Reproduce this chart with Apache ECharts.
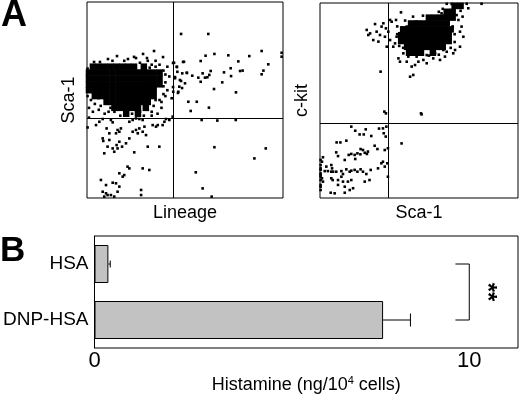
<!DOCTYPE html>
<html>
<head>
<meta charset="utf-8">
<script src="https://cdn.jsdelivr.net/npm/echarts@6/dist/echarts.min.js"></script>
<style>
  html, body { margin: 0; padding: 0; background: #fff; }
  #chart { width: 520px; height: 395px; }
</style>
</head>
<body>
<div id="chart"></div>
<script>
// --- panel A, left: Lineage vs Sca-1 (arbitrary channel units 0-100) ---
const leftGate = [43.9, 40.8] // quadrant lines (x, y)
const leftCore = [
  [3,67],[6,67],[9,67],[12,67],[15,67],[18,67],[21,67],[24,67],[29,67],
  [1,64],[4,64],[7,64],[10,64],[13,64],[16,64],[19,64],[22,64],[25,64],[28,64],[31,64],[34,64],[37,64],
  [1,61],[4,61],[7,61],[10,61],[13,61],[16,61],[19,61],[22,61],[25,61],[28,61],[31,61],[34,61],[37,61],
  [1,58],[4,58],[7,58],[10,58],[13,58],[16,58],[19,58],[22,58],[25,58],[28,58],[31,58],[34,58],[37,58],
  [1,55],[4,55],[7,55],[10,55],[13,55],[16,55],[19,55],[22,55],[25,55],[28,55],[31,55],[34,55],
  [4,52],[7,52],[10,52],[13,52],[16,52],[19,52],[22,52],[25,52],[28,52],[31,52],[34,52],
  [10,49],[13,49],[16,49],[19,49],[22,49],[25,49],[28,49],[31,49],
  [14,46],[17,46],[20,46],[23,46],[26,46],[30,46],
  [20,43],[26,43]
]
const leftDots = [
  [15.3,72.4],[20.9,70.9],[28.6,73.5],[34.2,75],[25,71.4],[30.6,71.4],[38.8,71.9],[6.6,69.4],[3.6,69.4],[10.7,70.9],
  [43.9,68.9],[45.9,66.8],[44.9,61.7],[47.4,60.2],[43.9,56.6],[46.4,53.6],[49,69.4],[51,63.8],[48.5,56.1],
  [48,83.7],[61.9,83.7],[44.4,69],[49.5,69.5],[58,69.9],[60.5,72.6],[65,73.5],[72.1,72.8],[82.8,72.4],[89.1,75],
  [99.3,74.1],[99.3,72.1],[77.2,69.7],[92.5,68.2],[73.3,66.2],[78.1,64.8],[79.4,65],[90,65],[89.1,63.1],[69.9,64.1],
  [73.5,62.2],[69,59],[64.8,55.6],[76,53.9],[51.7,49.1],[56,49.1],[52.9,44.4],[62.2,46.1],[53.7,62.4],[56.8,61.4],
  [59,63.6],[60.2,61.4],[61.4,61.6],[62.4,62.8],[63.1,64.8],[58,59.3],[48.6,63.6],[50.9,63.9],[50,58.5],[47.1,56.8],
  [46.6,54.2],[48,59.7],[44.9,61.1],[45.8,67],[46.1,64.4],[43.2,50.9],[44,54.2],
  [58.5,39.8],[66.5,39.5],[75.9,39.8],[65,25.9],[91.2,25.3],[85.4,20.2],[55.5,13.1],[59,4.9],[63.6,0.7],
  [4.6,37.2],[6.3,38.9],[8,40.3],[10,35.5],[12.2,39.8],[13.1,38.6],[15.6,34.7],[16.5,33.8],[17.3,35.5],[14.8,33],
  [11.4,33],[8,30.4],[8.3,29.1],[11.4,29.6],[10.5,26.2],[13.1,25.3],[15.1,27],[16.5,28.7],[17.9,26.2],[19.9,27.9],
  [13.9,23.6],[15.6,25.3],[8.8,22.8],[21.6,30.4],[23.3,33.8],[25,34.7],[26.7,35.5],[25.9,33],[29.3,36.4],[28.4,33.8],
  [30.1,32.1],[31,26.2],[33.5,37.2],[35.2,36.4],[36.1,37.2],[36.9,26.2],[39.5,38.9],[40.3,40.3],[21.6,38.9],[23.3,39.8],
  [25,40.6],[26.7,40.3],[28.4,39.8],[24.1,23.3],[20.7,16],[21.6,15.1],[28.4,15.1],[31.8,14.3],[16.5,12.6],[18.2,10.9],
  [19,11.7],[7.1,9.2],[9.7,6.6],[13.1,7.8],[14.8,7.5],[16.5,5.8],[15.6,3.2],[8,3.2],[9.7,2.4],[10.5,1.5],
  [8.8,0.7],[12.2,1.5],[13.9,0.7],[27.6,4.1],[27.6,1.5],[38.6,37.2],[42,39.8],[43.7,41.5],[0.3,36],
  [2,50],[4,48],[1,46],[6,51],[3,44],[7,47],[10,49],[12,46],[9,43],[14,44],[20,44],[23,43],[27,44],[31,45],
  [34,47],[36,43],[38,46],[33,42],[37,50],[39,53],[41,55],[40,59],[42,62],[39,65],[41,67],[37,68],[35,70],
  [33,68],[27,69],[31,70],[19,70],[13,70],[24,72],[1,41],[0.3,52],[0.3,57],[0.3,62],[0.3,66],
  [40,52],[38,49],[35,50],[33,44],[17,42],[29,42],[11,44],[6,45],[40,63],[39,57],[35,67],[32,66.5]
]

// --- panel A, right: Sca-1 vs c-kit ---
const rightGate = [34.3, 38.5]
const rightCore = [
  [55,92.5],[58,92.5],[61,92.5],[64,92.5],[67,92.5],[64,95.5],[67,95.5],[68,98.5],[71,98.5],
  [46,89.5],[49,89.5],[52,89.5],[55,89.5],[58,89.5],[61,89.5],[64,89.5],
  [42,86.5],[45,86.5],[48,86.5],[51,86.5],[54,86.5],[57,86.5],[60,86.5],[63,86.5],[66,86.5],
  [41,83.5],[44,83.5],[47,83.5],[50,83.5],[53,83.5],[56,83.5],[59,83.5],[62,83.5],[65,83.5],
  [41,80.5],[44,80.5],[47,80.5],[50,80.5],[53,80.5],[56,80.5],[59,80.5],[62,80.5],[65,80.5],
  [44,77.5],[47,77.5],[50,77.5],[53,77.5],[56,77.5],[59,77.5],[62,77.5],
  [45,74.5],[48,74.5],[51,74.5],[57,74.5]
]
const rightDots = [
  [23.6,86.2],[25.3,84.4],[27.8,89.2],[28.6,85.3],[30.3,83.6],[31.1,87.9],[32,89.6],[33.3,87],[34.5,85.3],[32.8,82.7],
  [36.2,90.4],[24.4,83.6],[26.9,81],[29.5,80.2],[35.4,81],[37,77.6],[33.7,77.6],[30.6,64.8],[32.5,44.3],[33.3,43.4],
  [51,43.4],[40.9,95.2],[35.4,91.3],[38.4,91.3],[39.6,71.6],[40.4,69.9],[43.8,69.9],[46.3,67.4],[48,68.2],[47.1,63.1],
  [45.5,62.2],[49.7,69.9],[52.2,70.8],[53.9,69.1],[57.2,71.6],[60.6,70.8],[63.1,72.5],[67.3,74.2],[70.7,77.6],[72.4,82.7],
  [71.5,87.9],[69,98.1],[70.7,99],[74.1,99.6],[74.9,97.3],[81.6,99.6],[64,99.6],[66.5,99.5],[61.4,94.7],[58.9,92.1],
  [55.6,91.3],[51.3,89.6],[48.8,90.4],[46.3,88.7],[43.8,87.9],[38.7,82.7],[37.9,79.3],[42.1,74.2],[44.6,72.5],[48.8,72.5],
  [53.9,73.3],[58.1,74.2],[62.3,75.9],[68.2,75.9],[70.7,85.3],[69.9,91.3],[66.5,94.7],[69,93.8],
  [40,78],[39,84],[39,88],[43,91],[47,93],[52,93.5],[67,88],[68,84],[68,80],[66,77],[64,75],[60,73.5],[55,73],
  [50,75],[46,75.5],[42,77],[67,96],[71,96],[72,93],[62,97],[60,95.5],[65,91],
  [41.2,28],[51.3,42.9],[33.5,36.6],[33.2,31.5],[34,17.8],
  [15.8,36.6],[17.8,34.5],[20,32.6],[22.1,32.6],[23.1,35.2],[25.9,31.8],[29.8,35.6],[31.8,35.7],[32.2,33.2],[8.4,28.5],
  [10.3,28.5],[13.3,29.4],[20.5,25.1],[22.6,23.2],[24.2,23.8],[27.6,26.8],[29,25.1],[32.7,24.6],[34.3,25.5],[8.2,23.4],
  [9.1,21.5],[14.5,22.1],[15.8,22.6],[17.5,22.1],[18.9,22.9],[20.4,22.4],[21.7,24.6],[12.5,19.5],[17.8,20],[23.7,22.6],
  [1.5,20.9],[1,18.6],[5.7,16.9],[6.1,15.2],[3.2,16.1],[2.4,13.8],[4,13.8],[5.7,13.5],[6.6,13.5],[8.2,13.5],
  [10.8,13.8],[11.6,12.3],[13.3,14.7],[15,13.5],[15.8,14],[17.5,14.4],[18.9,13.5],[20.5,14.7],[21.7,13.5],[23.4,12.3],
  [25.6,14.4],[29.3,15.2],[31,17.8],[32.7,16.1],[0.3,11.8],[1,10.1],[1.5,8.4],[0.3,6.7],[5.7,10.1],[6.4,9.2],
  [9.1,9.2],[10.8,10.9],[11.6,8.4],[14.1,8.4],[15.8,9.2],[9.1,6.7],[12.5,5.8],[15,4.1],[16.7,5],[5.4,2.7],
  [7.4,2.4],[12.5,2.7],[25,9.2],[22.6,8.4],[34.3,10.9],[31.8,18.6],
  [0.3,19.5],[0.3,16.9],[0.3,15.2],[0.3,14.4],[0.3,12.6],[0.3,10.9],[0.3,9.2],[0.3,5.8],[0.3,4.1]
]

// --- panel B: histamine release ---
const categories = ['DNP-HSA', 'HSA']
const histamine = [7.7, 0.37]
const histamineErr = [0.73, 0.05]
const xTicks = [0, 10]
const bracketX = [9.63, 10]
const starsX = 10.47

const font = 'Liberation Sans, Arial, Helvetica, sans-serif'
const black = '#000'
const nameTextStyle = { color: black, fontSize: 18, fontFamily: font }

function flowAxes(gridIndex, xName, yName) {
  const hidden = {
    min: 0, max: 100, type: 'value', gridIndex,
    axisLine: { show: false }, axisTick: { show: false },
    axisLabel: { show: false }, splitLine: { show: false },
    nameLocation: 'middle', nameTextStyle
  }
  return {
    x: Object.assign({}, hidden, { name: xName, nameGap: 6 }),
    y: Object.assign({}, hidden, { name: yName, nameGap: 9 })
  }
}
const a1 = flowAxes(0, 'Lineage', 'Sca-1')
const a2 = flowAxes(1, 'Sca-1', 'c-kit')

function gateLines(gate) {
  return {
    silent: true, symbol: 'none', animation: false,
    label: { show: false },
    lineStyle: { color: black, width: 1, type: 'solid', opacity: 1 },
    data: [{ xAxis: gate[0] }, { yAxis: gate[1] }]
  }
}

const dotStyle = { color: black, opacity: 1, borderWidth: 0 }

const chart = echarts.init(document.getElementById('chart'))
const option = {
  animation: false,
  backgroundColor: '#fff',
  textStyle: { fontFamily: font },
  title: [
    { text: 'A', left: 1, top: -2, padding: 0, textStyle: { fontSize: 36, fontWeight: 'bold', color: black, fontFamily: font } },
    { text: 'B', left: 0, top: 234, padding: 0, textStyle: { fontSize: 35, fontWeight: 'bold', color: black, fontFamily: font } }
  ],
  grid: [
    { left: 87, top: 2, width: 196, height: 196, show: true, borderColor: black, borderWidth: 1 },
    { left: 320, top: 3, width: 198, height: 195, show: true, borderColor: black, borderWidth: 1 },
    { left: 88, top: 236, width: 430, height: 118, show: true, borderColor: black, borderWidth: 1 }
  ],
  xAxis: [
    a1.x, a2.x,
    {
      gridIndex: 2, type: 'value', min: 0, max: 11.3,
      name: 'Histamine (ng/10{sup|4} cells)', nameLocation: 'middle', nameGap: 27,
      nameTextStyle: Object.assign({}, nameTextStyle, {
        rich: { sup: { fontSize: 11, verticalAlign: 'top', padding: [0, 0, 9, 0], color: black, fontFamily: font } }
      }),
      axisLine: { lineStyle: { color: black, width: 1 } },
      axisTick: { inside: true, length: 5, customValues: xTicks, lineStyle: { color: black } },
      axisLabel: { customValues: xTicks, color: black, fontSize: 22, margin: 2, fontFamily: font },
      splitLine: { show: false }
    }
  ],
  yAxis: [
    a1.y, a2.y,
    {
      gridIndex: 2, type: 'category', data: categories,
      axisLine: { lineStyle: { color: black, width: 1 } },
      axisTick: { show: false },
      axisLabel: { color: black, fontSize: 19, margin: 6, fontFamily: font },
      splitLine: { show: false }
    }
  ],
  series: [
    {
      type: 'scatter', xAxisIndex: 0, yAxisIndex: 0, data: leftCore,
      symbol: 'rect', symbolSize: 6.5, itemStyle: dotStyle, silent: true
    },
    {
      type: 'scatter', xAxisIndex: 0, yAxisIndex: 0, data: leftDots,
      symbol: 'rect', symbolSize: 2.6, itemStyle: dotStyle, silent: true,
      markLine: gateLines(leftGate)
    },
    {
      type: 'scatter', xAxisIndex: 1, yAxisIndex: 1, data: rightCore,
      symbol: 'rect', symbolSize: 6.5, itemStyle: dotStyle, silent: true
    },
    {
      type: 'scatter', xAxisIndex: 1, yAxisIndex: 1, data: rightDots,
      symbol: 'rect', symbolSize: 2.6, itemStyle: dotStyle, silent: true,
      markLine: gateLines(rightGate)
    },
    {
      type: 'bar', xAxisIndex: 2, yAxisIndex: 2, data: histamine, barWidth: 38,
      itemStyle: { color: '#c2c2c2', borderColor: black, borderWidth: 1 }
    },
    {
      // one-sided error bars
      type: 'custom', xAxisIndex: 2, yAxisIndex: 2, silent: true,
      data: histamine.map((v, i) => [i, v, v + histamineErr[i]]),
      encode: { x: [1, 2], y: 0 },
      renderItem(params, api) {
        const c = api.value(0)
        const p0 = api.coord([api.value(1), c])
        const p1 = api.coord([api.value(2), c])
        const cap = params.dataIndex === 0 ? 6.5 : 3.5
        const style = { stroke: black, lineWidth: 1 }
        return {
          type: 'group',
          children: [
            { type: 'line', shape: { x1: p0[0], y1: p0[1], x2: p1[0], y2: p1[1] }, style },
            { type: 'line', shape: { x1: p1[0], y1: p1[1] - cap, x2: p1[0], y2: p1[1] + cap }, style }
          ]
        }
      }
    },
    {
      // significance bracket between the two groups
      type: 'custom', xAxisIndex: 2, yAxisIndex: 2, silent: true,
      data: [[bracketX[0], bracketX[1], 1, 0]],
      encode: { x: [0, 1], y: [2, 3] },
      renderItem(params, api) {
        const a = api.coord([api.value(0), api.value(2)])
        const b = api.coord([api.value(1), api.value(2)])
        const c = api.coord([api.value(1), api.value(3)])
        const d = api.coord([api.value(0), api.value(3)])
        const s = api.coord([starsX, api.value(2)])
        return {
          type: 'group',
          children: [
            { type: 'polyline', shape: { points: [a, b, c, d] }, style: { stroke: black, lineWidth: 1, fill: null } },
            {
              type: 'text', x: s[0], y: (a[1] + d[1]) / 2, rotation: -Math.PI / 2,
              style: { text: '**', fontSize: 24, fontWeight: 'bold', fill: black, fontFamily: font, align: 'center', verticalAlign: 'middle' }
            }
          ]
        }
      }
    }
  ]
}
chart.setOption(option)
</script>
</body>
</html>
